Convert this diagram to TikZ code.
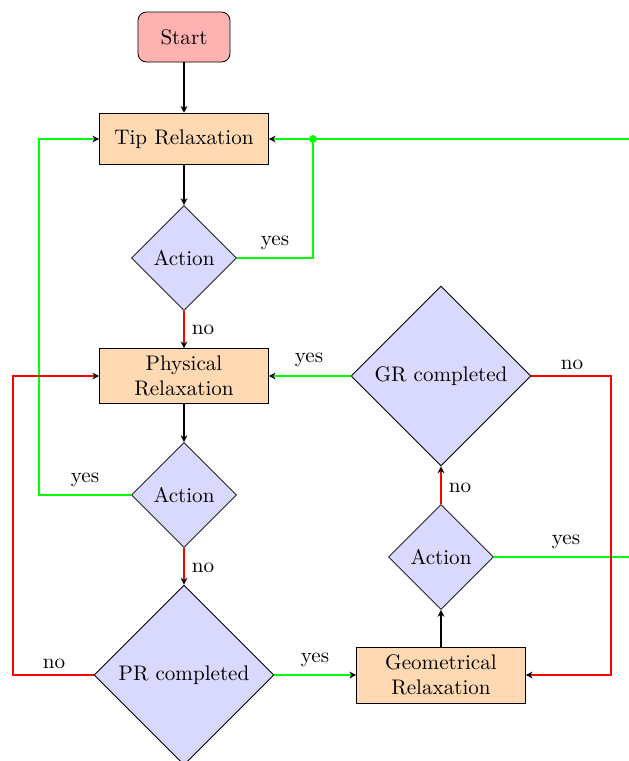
\documentclass[tikz,border=0pt]{standalone}
\usetikzlibrary{arrows.meta,shapes.geometric}
\begin{document}
\begin{tikzpicture}[x=0.474pt,y=-0.474pt,
  startbox/.style={draw,rounded corners=4pt,fill=red!30,minimum width=43.6pt,minimum height=23.7pt,inner sep=0pt},
  procbox/.style={draw,fill=orange!30,minimum width=80pt,minimum height=24.5pt,inner sep=1pt,align=center},
  decision/.style={draw,diamond,aspect=1,fill=blue!15,inner sep=0pt},
  smalldec/.style={decision,minimum width=49.8pt,minimum height=49.8pt},
  bigdec/.style={decision,minimum width=85.3pt,minimum height=85.3pt},
  conn/.style={semithick,-{Stealth[length=3.2pt,width=3.2pt,inset=1pt,black]}},
  yesline/.style={conn,green,line width=0.7pt},
  noline/.style={conn,red,line width=0.7pt},
  plainline/.style={green,line width=0.7pt},
  lbl/.style={inner sep=0pt}]
\clip (0,0) rectangle (629,761);
\node[startbox] (start) at (184,37) {Start};
\node[procbox] (tip) at (184,139) {Tip Relaxation};
\node[smalldec] (a1) at (184,258) {Action};
\node[procbox,minimum height=26pt] (phys) at (184,376) {Physical\\Relaxation};
\node[smalldec] (a2) at (184,495) {Action};
\node[bigdec] (pr) at (184,675) {PR completed};
\node[procbox,minimum height=26.5pt] (geo) at (441,675) {Geometrical\\Relaxation};
\node[smalldec] (a3) at (441,557) {Action};
\node[bigdec] (gr) at (441,376) {GR completed};

\coordinate (jn) at (313,139);
\coordinate (far) at (700,139);
\coordinate (lft) at (39,139);
\coordinate (lft2) at (13,376);
\coordinate (rgt) at (611,675);

\draw[conn] (start) -- (tip);
\draw[conn] (tip) -- (a1);
\draw[noline] (a1) -- (phys);
\draw[conn] (phys) -- (a2);
\draw[noline] (a2) -- (pr);
\draw[conn] (geo) -- (a3);
\draw[noline] (a3) -- (gr);

\draw[yesline] (a1.east) -| (jn) -- (tip.east);
\fill[green] (jn) circle (1.9pt);
\draw[plainline] (a3.east) -| (far) -- (jn);
\draw[yesline] (a2.west) -| (lft) -- (tip.west);
\draw[noline] (pr.west) -| (lft2) -- (phys.west);
\draw[yesline] (pr.east) -- (geo.west);
\draw[yesline] (gr.west) -- (phys.east);
\draw[noline] (gr.east) -| (rgt) -- (geo.east);

\node[lbl] at (275,243) {yes};
\node[lbl] at (203,330) {no};
\node[lbl] at (85,480) {yes};
\node[lbl] at (203,568) {no};
\node[lbl] at (54,664) {no};
\node[lbl] at (315,660) {yes};
\node[lbl] at (460,488) {no};
\node[lbl] at (566,542) {yes};
\node[lbl] at (309,360) {yes};
\node[lbl] at (572,365) {no};
\end{tikzpicture}
\end{document}
